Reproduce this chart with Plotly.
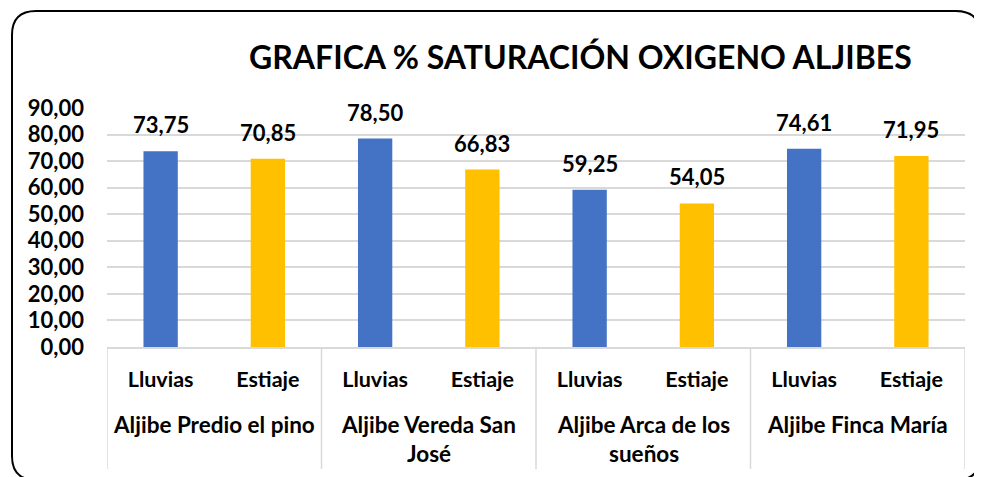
import plotly.graph_objects as go

groups = ["Aljibe Predio el pino", "Aljibe Vereda San<br>José", "Aljibe Arca de los<br>sueños", "Aljibe Finca María"]
seasons = ["Lluvias", "Estiaje"]
lluvias = [73.75, 78.50, 59.25, 74.61]
estiaje = [70.85, 66.83, 54.05, 71.95]
y_ticks = [0, 10, 20, 30, 40, 50, 60, 70, 80, 90]

BLUE = "#4472C4"
GOLD = "#FFC000"
FONT = "Lato"
GRID = "#D9D9D9"

xpos, xlab, vals, cols = [], [], [], []
for gi, (a, b) in enumerate(zip(lluvias, estiaje)):
    for si, (v, c) in enumerate(zip((a, b), (BLUE, GOLD))):
        xpos.append(gi * 2 + si)
        xlab.append(seasons[si])
        vals.append(v)
        cols.append(c)

# page body has an 8px margin: work in page coordinates, shift into figure coordinates
OFF = 8
W, H = 982 - OFF, 477 - OFF
L, R, T, B = 107 - OFF, 965 - OFF, 108 - OFF, 347 - OFF

def px(xp):
    return (xp - OFF - L) / (R - L)

def py(yp):
    return (B - (yp - OFF)) / (B - T)

fig = go.Figure()
fig.add_trace(go.Bar(x=xpos, y=vals, marker=dict(color=cols, line=dict(width=0)),
                     width=0.32, showlegend=False,
                     text=[f"{v:.2f}".replace(".", ",") for v in vals],
                     textposition="none"))

for xp, v in zip(xpos, vals):
    fig.add_annotation(x=xp, y=v, text=f"{v:.2f}".replace(".", ","), showarrow=False,
                       yanchor="bottom", yshift=11,
                       font=dict(family=FONT, size=22, color="#000000", weight="bold"))

# group labels and dividers
n_groups = len(groups)
for gi, g in enumerate(groups):
    fig.add_annotation(x=gi * 2 + 0.5, y=py(409), yref="paper", text=g, showarrow=False,
                       xanchor="center", yanchor="top", align="center",
                       font=dict(family=FONT, size=22.5, color="#000000", weight="bold"))
for k in range(n_groups + 1):
    xd = k * 2 - 0.5
    fig.add_shape(type="line", x0=xd, x1=xd, y0=py(347), y1=py(469), xref="x", yref="paper",
                  line=dict(color=GRID, width=1.5))

# rounded chart border
x0, x1, y0, y1, r = 12, 980, 11, 480, 24
path = (f"M {px(x0 + r)},{py(y1)} Q {px(x0)},{py(y1)} {px(x0)},{py(y1 - r)} "
        f"L {px(x0)},{py(y0 + r)} "
        f"Q {px(x0)},{py(y0)} {px(x0 + r)},{py(y0)} "
        f"L {px(x1 - r)},{py(y0)} Q {px(x1)},{py(y0)} {px(x1)},{py(y0 + r)} "
        f"L {px(x1)},{py(y1 - r)} Q {px(x1)},{py(y1)} {px(x1 - r)},{py(y1)} Z")
fig.add_shape(type="path", path=path, xref="paper", yref="paper",
              line=dict(color="#000000", width=2))

fig.add_annotation(x=px(580), y=py(56), xref="paper", yref="paper",
                   text="GRAFICA % SATURACIÓN OXIGENO ALJIBES", showarrow=False,
                   xanchor="center", yanchor="middle",
                   font=dict(family=FONT, size=32, color="#000000", weight="bold"))

fig.update_layout(
    width=W, height=H,
    margin=dict(l=L, r=W - R, t=T, b=H - B),
    paper_bgcolor="#ffffff", plot_bgcolor="#ffffff",
    separators=",.",
    font=dict(family=FONT, color="#000000"),
)
fig.update_yaxes(range=[0, 90], tickvals=y_ticks, tickformat=".2f", automargin=False,
                 showgrid=True, gridcolor=GRID, gridwidth=1.5,
                 zeroline=False, showline=False, ticks="", ticklabelstandoff=22,
                 tickfont=dict(family=FONT, size=22, color="#000000", weight="bold"))
fig.update_xaxes(range=[-0.5, 2 * n_groups - 0.5], tickvals=xpos, ticktext=xlab,
                 automargin=False, showline=True, linecolor=GRID, linewidth=1.5,
                 ticks="", showgrid=False, zeroline=False, ticklabelstandoff=12,
                 tickfont=dict(family=FONT, size=21.5, color="#000000", weight="bold"))

fig.write_html("out.html")
